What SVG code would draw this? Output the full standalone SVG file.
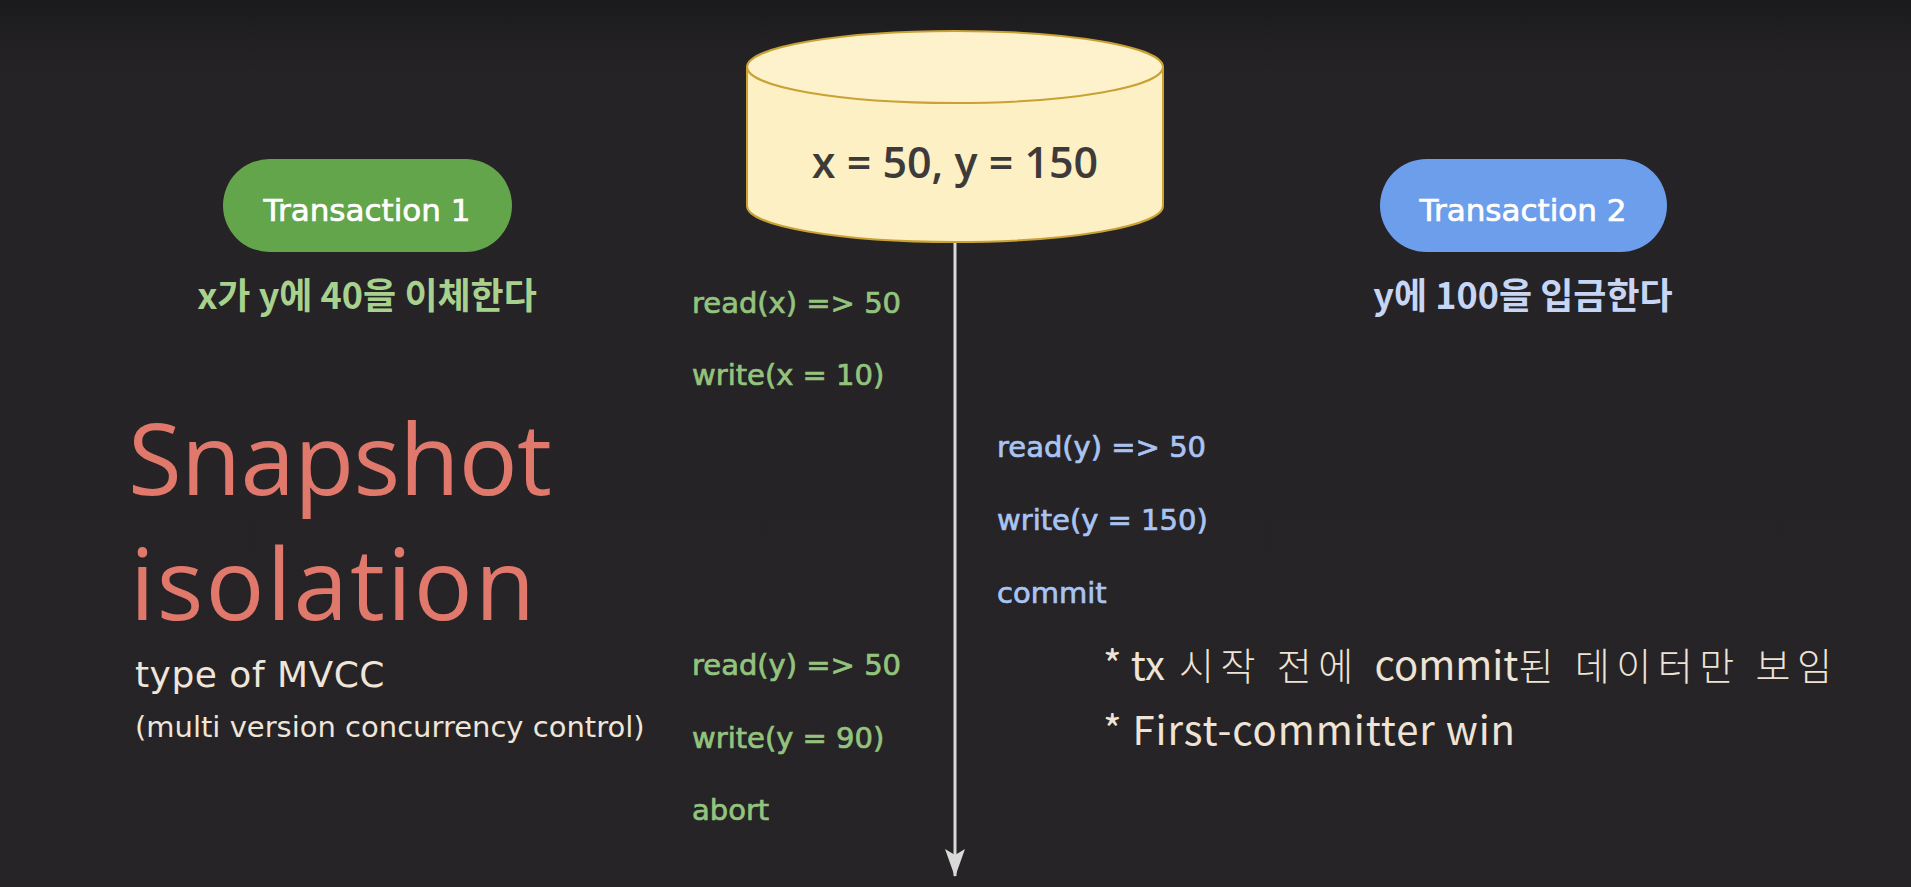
<svg xmlns="http://www.w3.org/2000/svg" width="1911" height="887" viewBox="0 0 1911 887">
  <defs>
    <linearGradient id="bg" x1="0" y1="0" x2="0" y2="1">
      <stop offset="0" stop-color="#1b1a1d"/>
      <stop offset="0.08" stop-color="#252326"/>
      <stop offset="1" stop-color="#262427"/>
    </linearGradient>
    <marker id="arrow" viewBox="0 0 28 20" refX="27" refY="10" markerWidth="28" markerHeight="20" markerUnits="userSpaceOnUse" orient="auto">
      <path d="M0 0 L6 10 L0 20 L28 10 Z" fill="#d9d9d9"/>
    </marker>
    <style>
      .ops { font-family: "DejaVu Sans", "Liberation Sans", sans-serif; font-size: 29px; stroke-width: 0.7px; }
      .t1 { fill: #93c47d; stroke: #93c47d; }
      .t2 { fill: #a9c4f2; stroke: #a9c4f2; }
      .pill-label { font-family: "DejaVu Sans", "Liberation Sans", sans-serif; font-size: 31px; fill: #ffffff; stroke: #ffffff; stroke-width: 0.7px; text-anchor: middle; }
      .kr { font-family: "Noto Sans CJK KR", "Noto Sans", sans-serif; font-size: 36px; font-weight: 700; text-anchor: middle; }
      .note { font-family: "Noto Sans CJK KR", "Noto Sans", sans-serif; fill: #eee3d5; }
      .lat { font-size: 40px; }
      .han { font-size: 38px; font-weight: 300; letter-spacing: 6.5px; }
      .sub { font-family: "DejaVu Sans", "Liberation Sans", sans-serif; fill: #efe5d8; }
      .title { font-family: "Open Sans", "Liberation Sans", sans-serif; font-size: 98px; font-weight: 500; fill: #e0786b; }
    </style>
  </defs>

  <rect width="1911" height="887" fill="url(#bg)"/>

  <!-- timeline -->
  <g id="connectors">
    <line x1="955" y1="242" x2="955" y2="876" stroke="#d9d9d9" stroke-width="3" marker-end="url(#arrow)"/>
  </g>

  <!-- database cylinder -->
  <g id="database">
    <path d="M747 67 L747 206 A208 36 0 0 0 1163 206 L1163 67" fill="#fdf0c4" stroke="#c9a233" stroke-width="2"/>
    <ellipse cx="955" cy="67" rx="208" ry="36" fill="#fdf2cc" stroke="#c9a233" stroke-width="2"/>
    <text x="955" y="178" text-anchor="middle" font-family="'Open Sans', 'Liberation Sans', sans-serif" font-size="43" font-weight="600" fill="#3d3b3a">x = 50, y = 150</text>
  </g>

  <!-- transaction 1 -->
  <g id="transaction1">
    <rect x="223" y="159" width="289" height="93" rx="46.5" fill="#62a54a"/>
    <text class="pill-label" x="367" y="221">Transaction 1</text>
    <text class="kr" x="367" y="309" style="fill:#a9d18e">x가 y에 40을 이체한다</text>
  </g>

  <!-- transaction 2 -->
  <g id="transaction2">
    <rect x="1380" y="159" width="287" height="93" rx="46.5" fill="#6d9eeb"/>
    <text class="pill-label" x="1523" y="221">Transaction 2</text>
    <text class="kr" x="1523" y="309" style="fill:#c6d6f4">y에 100을 입금한다</text>
  </g>

  <!-- transaction 1 operations -->
  <g id="tx1-ops" class="ops t1">
    <text x="692" y="313">read(x) =&gt; 50</text>
    <text x="692" y="385">write(x = 10)</text>
    <text x="692" y="675">read(y) =&gt; 50</text>
    <text x="692" y="748">write(y = 90)</text>
    <text x="692" y="820">abort</text>
  </g>

  <!-- transaction 2 operations -->
  <g id="tx2-ops" class="ops t2">
    <text x="997" y="457">read(y) =&gt; 50</text>
    <text x="997" y="530">write(y = 150)</text>
    <text x="997" y="603">commit</text>
  </g>

  <!-- title -->
  <g id="title">
    <text class="title" x="128" y="495" textLength="424" lengthAdjust="spacing">Snapshot</text>
    <text class="title" x="130" y="620" textLength="405" lengthAdjust="spacing">isolation</text>
    <text class="sub" x="135" y="687" font-size="36" letter-spacing="0.5">type of MVCC</text>
    <text class="sub" x="135" y="737" font-size="29">(multi version concurrency control)</text>
  </g>

  <!-- notes -->
  <g id="notes">
    <text class="note" x="1103" y="680"><tspan class="lat">* tx</tspan><tspan class="han" dx="14">시작 전에 </tspan><tspan class="lat">commit</tspan><tspan class="han">된 데이터만 보임</tspan></text>
    <text class="note lat" x="1103" y="745" textLength="412" lengthAdjust="spacing">* First-committer win</text>
  </g>
</svg>
